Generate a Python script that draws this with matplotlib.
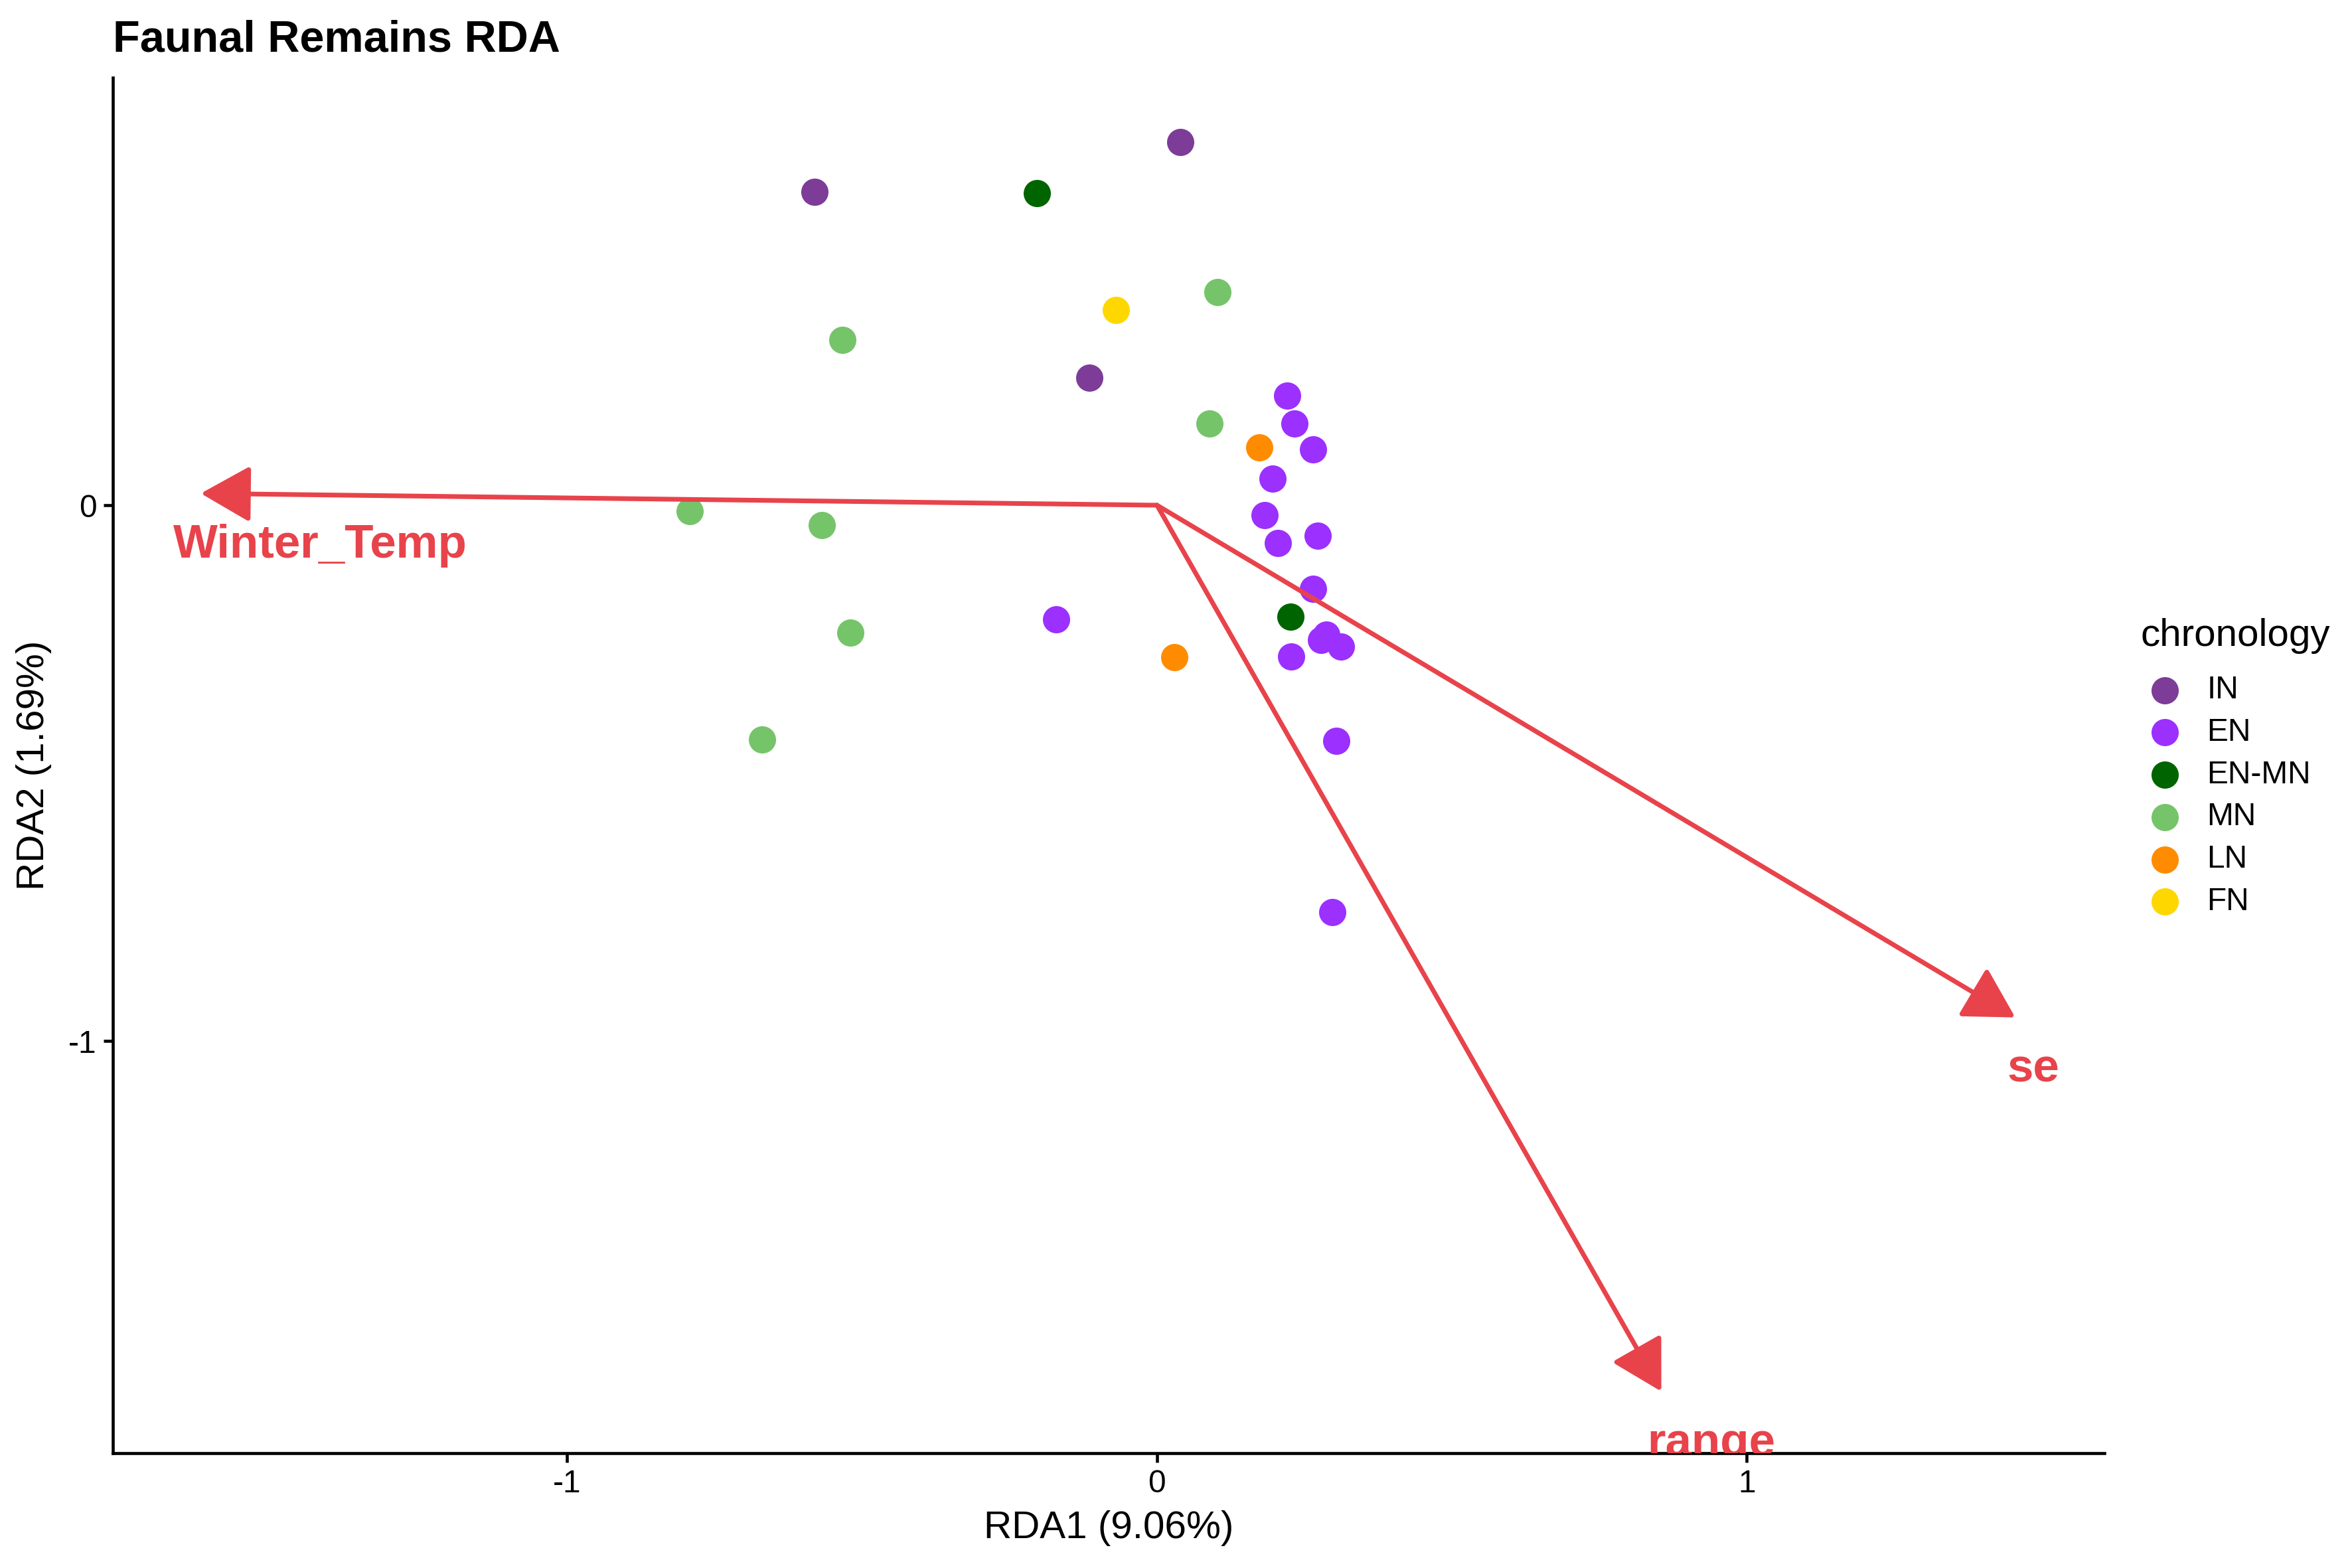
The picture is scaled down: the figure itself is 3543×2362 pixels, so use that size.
import numpy as np
import matplotlib
matplotlib.use("Agg")
import matplotlib.pyplot as plt
from matplotlib.patches import FancyArrowPatch
from matplotlib.transforms import ScaledTranslation

plt.rcParams["font.family"] = ["Liberation Sans", "DejaVu Sans"]
plt.rcParams["axes.unicode_minus"] = False

# site scores (RDA1, RDA2) and chronology of each site
site_rda1 = [-0.581, 0.040, -0.115,
             -0.204, 0.226,
             -0.533, 0.103, 0.089, -0.792, -0.568, -0.520, -0.670,
             -0.070,
             0.173, 0.029,
             0.221, 0.233, 0.265, 0.196, 0.182, 0.205, 0.272, 0.265,
             0.278, 0.287, 0.312, 0.227, 0.304, 0.297, -0.171]
site_rda2 = [0.585, 0.678, 0.238,
             0.582, -0.208,
             0.308, 0.398, 0.153, -0.011, -0.037, -0.238, -0.437,
             0.364,
             0.108, -0.284,
             0.205, 0.153, 0.104, 0.049, -0.018, -0.071, -0.057, -0.156,
             -0.251, -0.242, -0.264, -0.282, -0.440, -0.759, -0.213]
site_chron = ["IN", "IN", "IN",
              "EN-MN", "EN-MN",
              "MN", "MN", "MN", "MN", "MN", "MN", "MN",
              "FN",
              "LN", "LN",
              "EN", "EN", "EN", "EN", "EN", "EN", "EN", "EN",
              "EN", "EN", "EN", "EN", "EN", "EN", "EN"]

chron_levels = ["IN", "EN", "EN-MN", "MN", "LN", "FN"]
chron_colors = ["#7D3C98", "#9B30FF", "#006400", "#76C46A", "#FF8C00", "#FFD700"]

# environmental biplot arrows
env_vars = ["Winter_Temp", "se", "range"]
env_rda1 = [-1.621, 1.455, 0.855]
env_rda2 = [0.022, -0.956, -1.654]

arrow_col = "#E8434B"

fig = plt.figure(figsize=(3543 / 300, 2362 / 300), dpi=300)
ax = fig.add_axes([0.048, 0.0733, 0.8467, 0.8772])

x = np.array(site_rda1)
y = np.array(site_rda2)
g = np.array(site_chron)
for lev, col in zip(chron_levels, chron_colors):
    m = g == lev
    ax.scatter(x[m], y[m], s=97, color=col, linewidths=0, label=lev, zorder=2)

ax.set_xlim(-1.770, 1.606)
ax.set_ylim(-1.769, 0.798)

renderer = fig.canvas.get_renderer()
for name, ex, ey in zip(env_vars, env_rda1, env_rda2):
    arr = FancyArrowPatch((0, 0), (ex, ey),
                          arrowstyle="-|>,head_length=15.5,head_width=8.8",
                          mutation_scale=1, color=arrow_col, lw=1.7,
                          shrinkA=0, shrinkB=0, joinstyle="round",
                          capstyle="round", zorder=3)
    ax.add_patch(arr)
    t = ax.text(ex, ey - 0.12, name, color=arrow_col, fontsize=17,
                fontweight="bold", ha="left", va="baseline", clip_on=True, zorder=4)
    # hjust ~0.08 like the ggplot label
    w = t.get_window_extent(renderer).width
    t.set_transform(ax.transData + ScaledTranslation((-0.08 * w - 6) / fig.dpi, 0,
                                                     fig.dpi_scale_trans))

ax.set_xticks([-1, 0, 1])
ax.set_yticks([-1, 0])
ax.set_xticklabels(["-1", "0", "1"])
ax.set_yticklabels(["-1", "0"])

for s in ["top", "right"]:
    ax.spines[s].set_visible(False)
for s in ["left", "bottom"]:
    ax.spines[s].set_linewidth(1.1)
ax.tick_params(axis="both", length=3.4, width=1.1, labelsize=11.5,
               pad=2.5, colors="black")

ax.set_xlabel("RDA1 (9.06%)", fontsize=14, labelpad=4)
ax.set_ylabel("RDA2 (1.69%)", fontsize=14, labelpad=6)

fig.text(0.048, 0.9674, "Faunal Remains RDA", fontsize=16,
         fontweight="bold", ha="left", va="baseline")

leg = ax.legend(title="chronology", loc="upper left",
                bbox_to_anchor=(0.9102, 0.6059), bbox_transform=fig.transFigure,
                frameon=False, fontsize=11.5, title_fontsize=14,
                handlelength=1.5, handletextpad=0.58, labelspacing=0.39,
                borderpad=0, borderaxespad=0, alignment="left")
# a bit more room between legend title and keys, like ggplot
leg._legend_box.sep = 7.8

fig.savefig("out.png", dpi=300)
